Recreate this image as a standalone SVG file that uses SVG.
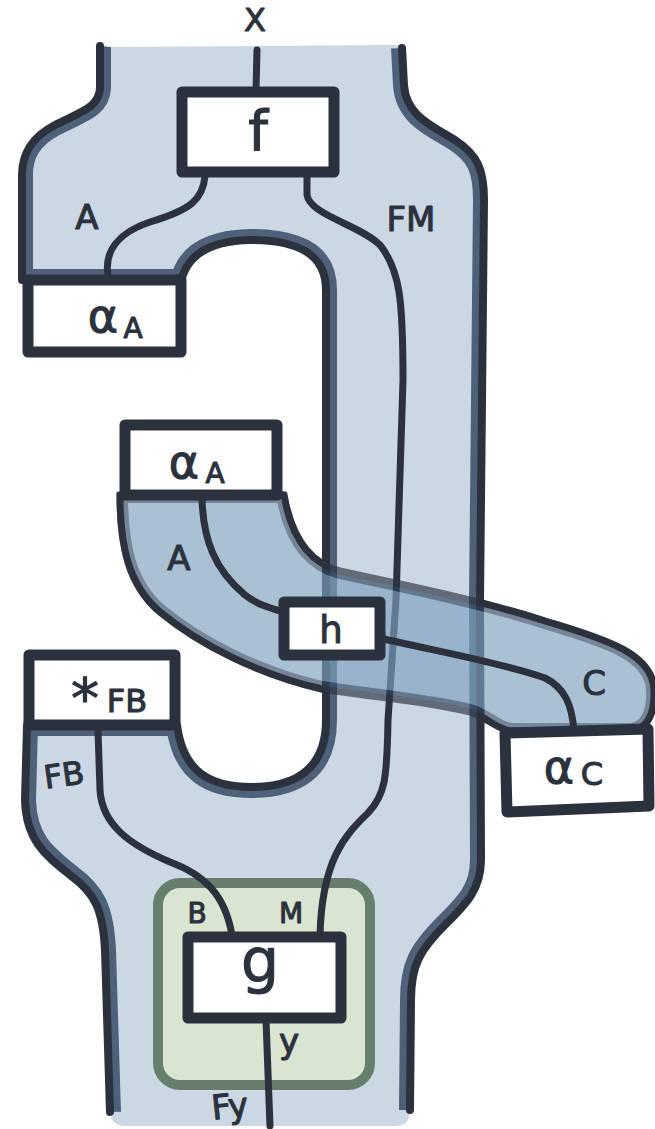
<svg xmlns="http://www.w3.org/2000/svg" width="655" height="1129" viewBox="0 0 655 1129">
<style>
.ink{fill:none;stroke:#2b323d;stroke-width:8;stroke-linecap:round;stroke-linejoin:round}
.wire{fill:none;stroke:#2b323d;stroke-width:7;stroke-linecap:round;stroke-linejoin:round}
.shade{fill:none;stroke:#4e6178;stroke-width:22;stroke-linejoin:round}
.box{fill:#fff;stroke:#2b323d;stroke-width:11;stroke-linejoin:round}
.lbl{font-family:"DejaVu Sans","Liberation Sans",sans-serif;fill:#2b323d;stroke:#2b323d;stroke-width:1.1;stroke-linejoin:round;text-anchor:middle}
</style>
<defs>
  <!-- outer surface of the F functor -->
  <path id="blueShape" d="M 100,46 L 100,88 C 99,108 80,112 55,125 C 30,138 22,155 22,175 L 22,280 L 181,280 C 186,258 205,241 250,240 C 300,240 326,255 326,290 L 326,720 C 326,770 295,787 252,787 C 210,787 183,772 177,725 L 27,725 L 25,800 C 26,840 45,855 70,875 C 95,893 103,910 105,950 L 110,1112 Q 111,1126 126,1126 L 396,1126 Q 410,1126 410,1110 L 411,1000 C 411,965 420,950 445,925 C 465,905 481,890 481,860 L 480,600 L 484,200 C 484,170 478,155 455,140 C 430,125 406,115 404,85 L 402,48 Q 400,44 388,45 L 110,47 Q 100,46 100,46 Z"/>
  <clipPath id="blueClip"><use href="#blueShape"/></clipPath>
  <!-- diagonal band carrying A to C -->
  <path id="bandShape" d="M 120,495 L 284,495 C 290,530 305,562 340,571 C 400,584 480,600 545,621 C 610,640 653,655 654,690 C 655,712 648,730 630,731 L 510,731 C 495,728 485,716 470,712 C 420,700 370,697 322,689 C 260,675 200,645 160,612 C 128,585 120,545 120,495 Z"/>
  <clipPath id="bandClip"><use href="#bandShape"/></clipPath>
  <clipPath id="offStrip"><rect x="0" y="0" width="329" height="1129"/><rect x="477" y="0" width="178" height="1129"/></clipPath>
</defs>

<g id="surface">
  <use href="#blueShape" fill="#cbd8e4"/>
  <g clip-path="url(#blueClip)">
    <path class="shade" stroke-width="20" d="M 100,46 L 100,88 C 99,108 80,112 55,125 C 30,138 22,155 22,175 L 22,280"/>
    <path class="shade" stroke-width="20" d="M 402,48 L 404,85 C 406,115 430,125 455,140 C 478,155 484,170 484,200 L 480,600 L 481,860 C 481,890 465,905 445,925 C 420,950 411,965 411,1000 L 410,1110"/>
    <path class="shade" stroke-width="26" d="M 181,282 C 186,258 205,241 250,240 C 300,240 326,255 326,290 L 326,720 C 326,770 295,787 252,787 C 210,787 183,772 177,725"/>
    <path class="shade" stroke-width="20" d="M 27,725 L 25,800 C 26,840 45,855 70,875 C 95,893 103,910 105,950 L 110,1112"/>
    <rect class="shade" stroke-width="26" x="28" y="280" width="153" height="72"/>
    <rect class="shade" stroke-width="26" x="29" y="655" width="146" height="70"/>
  </g>
  <path class="ink" d="M 100,46 L 100,88 C 99,108 80,112 55,125 C 30,138 22,155 22,175 L 22,280"/>
  <path class="ink" d="M 402,48 L 404,85 C 406,115 430,125 455,140 C 478,155 484,170 484,200 L 480,600 L 481,860 C 481,890 465,905 445,925 C 420,950 411,965 411,1000 L 410,1110"/>
  <path class="ink" d="M 181,282 C 186,258 205,241 250,240 C 300,240 326,255 326,290 L 326,720 C 326,770 295,787 252,787 C 210,787 183,772 177,725"/>
  <path class="ink" d="M 27,725 L 25,800 C 26,840 45,855 70,875 C 95,893 103,910 105,950 L 110,1112"/>
</g>

<g id="g-region">
  <rect x="158" y="883" width="212" height="202" rx="22" fill="#d9e4d1" stroke="#687e6d" stroke-width="10"/>
</g>

<g id="connectors">
  <path class="wire" d="M 257,50 L 256,90"/>
  <path class="wire" d="M 205,176 C 203,200 190,210 150,222 C 120,232 104,250 108,275"/>
  <path class="wire" d="M 307,176 L 307,195 C 310,215 360,225 380,245 C 400,270 403,300 403,380 L 396,600 L 388,720 C 387,780 385,795 368,813 C 345,835 322,860 320,935"/>
  <path class="wire" d="M 98,731 L 100,790 C 102,825 130,845 170,862 C 205,875 225,895 232,935"/>
  <path class="wire" d="M 266,1020 L 270,1126"/>
</g>

<g id="band">
  <g opacity="0.65">
    <use href="#bandShape" fill="#7ea0be"/>
    <g clip-path="url(#bandClip)">
      <use href="#bandShape" fill="none" stroke="#2e4560" stroke-width="16"/>
    </g>
    <use href="#bandShape" fill="none" stroke="#2b323d" stroke-width="7"/>
  </g>
  <g clip-path="url(#offStrip)">
    <use href="#bandShape" fill="none" stroke="#2b323d" stroke-width="7" stroke-linejoin="round"/>
  </g>
</g>

<g id="band-connectors">
  <path class="wire" d="M 202,498 C 203,540 215,570 245,595 C 258,605 270,608 284,612"/>
  <path class="wire" d="M 380,638 C 420,648 500,662 545,678 C 565,688 572,705 574,731"/>
</g>

<g id="node-f">
  <rect class="box" stroke-width="9" x="182" y="92" width="152" height="80"/>
  <text class="lbl" x="258" y="150" font-size="56">f</text>
</g>
<g id="node-alphaA-top">
  <rect class="box" x="28" y="280" width="153" height="72"/>
  <text class="lbl" x="103" y="332" font-size="46">α</text>
  <text class="lbl" x="133" y="338" font-size="28">A</text>
</g>
<g id="node-alphaA-mid">
  <rect class="box" stroke-width="12" x="125" y="425" width="152" height="70"/>
  <text class="lbl" x="184" y="478" font-size="46">α</text>
  <text class="lbl" x="215" y="483" font-size="28">A</text>
</g>
<g id="node-h">
  <rect class="box" stroke-width="8" x="284" y="602" width="96" height="53"/>
  <text class="lbl" x="331" y="643" font-size="37">h</text>
</g>
<g id="node-starFB">
  <rect class="box" stroke-width="12" x="29" y="655" width="146" height="70"/>
  <text class="lbl" x="85" y="718" font-size="56">*</text>
  <text class="lbl" x="127" y="712" font-size="32">FB</text>
</g>
<g id="node-alphaC">
  <path class="box" stroke-width="12" d="M 505,733 L 648,729 L 649,806 L 507,812 Z"/>
  <text class="lbl" x="559" y="783" font-size="46">α</text>
  <text class="lbl" x="592" y="785" font-size="32">C</text>
</g>
<g id="node-g">
  <rect class="box" stroke-width="9" x="188" y="937" width="153" height="81"/>
  <text class="lbl" x="260" y="981" font-size="60">g</text>
</g>

<g id="wire-labels">
  <text class="lbl" x="255" y="31" font-size="32">X</text>
  <text class="lbl" x="87" y="229" font-size="34">A</text>
  <text class="lbl" x="411" y="231" font-size="34">FM</text>
  <text class="lbl" x="179" y="570" font-size="34">A</text>
  <text class="lbl" x="594" y="695" font-size="34">C</text>
  <text class="lbl" x="64" y="786" font-size="32" transform="rotate(-8 64 776)">FB</text>
  <text class="lbl" x="197" y="923" font-size="28">B</text>
  <text class="lbl" x="291" y="923" font-size="28">M</text>
  <text class="lbl" x="289" y="1053" font-size="34">y</text>
  <text class="lbl" x="230" y="1118" font-size="34" transform="rotate(-6 230 1108)">Fy</text>
</g>
</svg>
